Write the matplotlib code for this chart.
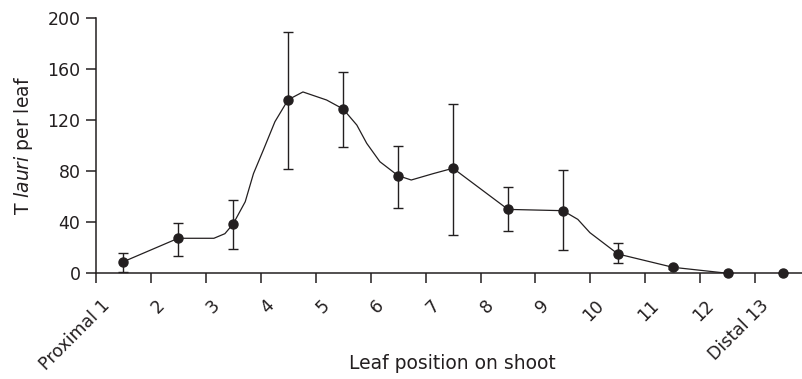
import matplotlib
matplotlib.use('Agg')
import matplotlib.pyplot as plt
import matplotlib.transforms as mtransforms

plt.rcParams['font.family'] = ['DejaVu Sans']
plt.rcParams['mathtext.fontset'] = 'custom'
plt.rcParams['mathtext.rm'] = 'DejaVu Sans'
plt.rcParams['mathtext.it'] = 'DejaVu Sans:italic'

ink = '#231f20'

# leaf positions (points sit in the middle of each slot)
tick_labels = ['Proximal 1', '2', '3', '4', '5', '6', '7', '8', '9', '10', '11', '12', 'Distal 13']
pos_x = [0.5, 1.5, 2.5, 3.5, 4.5, 5.5, 6.5, 7.5, 8.5, 9.5, 10.5, 11.5, 12.5]
mean_y = [9, 27.4, 38.6, 135.8, 128.6, 76.4, 82.2, 50, 49, 15.1, 4.7, 0, 0]
bar_lo = [1, 13.3, 19, 81.6, 98.8, 51, 30.2, 33.4, 18.2, 8.3, 3.4, 0, 0]
bar_hi = [15.6, 39.4, 57, 189, 157.5, 99.8, 132.7, 67.8, 81, 24, 6.0, 0, 0]

# smoothed trend line as drawn in the figure
curve_x = [0.5, 1.5, 2.15, 2.35, 2.5, 2.72, 2.87, 3.05, 3.26, 3.5, 3.77, 4.2, 4.5,
           4.75, 4.93, 5.17, 5.5, 5.74, 6.14, 6.5, 7.5, 8.5, 8.77, 8.99, 9.5, 10.5, 11.5]
curve_y = [9, 27.4, 27.4, 31, 38.6, 56, 78, 96.5, 118.6, 135.8, 141.9, 135.6, 128.6,
           116, 101.7, 87.3, 76.4, 73, 78, 82.2, 50, 49, 42.2, 31.8, 15.1, 4.7, 0]

fig = plt.figure(figsize=(8.03, 3.79), dpi=100)
ax = fig.add_axes([95.7 / 803, 105.7 / 379, 707.5 / 803, 255.6 / 379])

ax.plot(curve_x, curve_y, color=ink, lw=0.9, zorder=2)
err = [[m - lo for m, lo in zip(mean_y, bar_lo)], [hi - m for m, hi in zip(mean_y, bar_hi)]]
ax.errorbar(pos_x, mean_y, yerr=err, fmt='none', ecolor=ink, elinewidth=1.0,
            capsize=3.6, capthick=1.0, zorder=3)
ax.plot(pos_x, mean_y, 'o', color=ink, ms=6.5, zorder=4, clip_on=False)

ax.set_xlim(0, 12.87)
ax.set_ylim(0, 200)
ax.set_yticks([0, 40, 80, 120, 160, 200])
ax.set_xticks(range(13))

for s in ['top', 'right']:
    ax.spines[s].set_visible(False)
for s in ['left', 'bottom']:
    ax.spines[s].set_linewidth(1.1)
    ax.spines[s].set_color(ink)
ax.tick_params(axis='both', direction='out', length=7, width=1.1, color=ink,
               labelsize=12.5, labelcolor=ink)
ax.tick_params(axis='y', pad=4)

# tick labels after tick_params, otherwise the shift gets reset
ax.set_xticklabels(tick_labels, rotation=45, ha='right', va='center',
                   rotation_mode='anchor')
off = mtransforms.ScaledTranslation(0.11, -0.15, fig.dpi_scale_trans)
for tk in ax.xaxis.get_major_ticks():
    tk.label1.set_transform(tk.label1.get_transform() + off)

ax.set_ylabel(r'T $\mathit{lauri}$ per leaf', fontsize=13.5, color=ink)
ax.yaxis.set_label_coords(-0.086, 0.5)
ax.set_xlabel('Leaf position on shoot', fontsize=13.5, color=ink)
ax.xaxis.set_label_coords(0.504, -0.316)

fig.savefig('out.png', dpi=100)
